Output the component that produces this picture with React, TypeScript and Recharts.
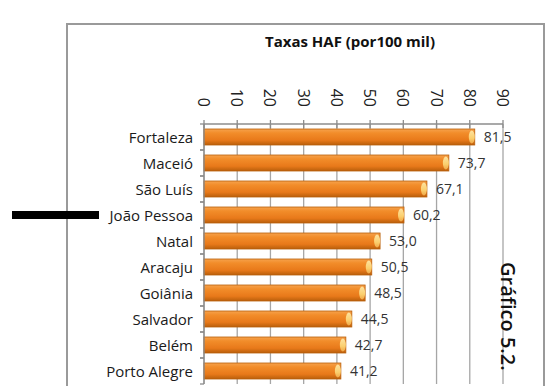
import React from 'react';
import { BarChart, Bar, XAxis, YAxis, CartesianGrid, LabelList } from 'recharts';

const cities = ['Fortaleza', 'Maceió', 'São Luís', 'João Pessoa', 'Natal', 'Aracaju', 'Goiânia', 'Salvador', 'Belém', 'Porto Alegre'];
const rates = [81.5, 73.7, 67.1, 60.2, 53.0, 50.5, 48.5, 44.5, 42.7, 41.2];
const xTicks = [0, 10, 20, 30, 40, 50, 60, 70, 80, 90];

const data = cities.map((city, i) => ({ city, value: rates[i] }));

const W = 560;
const H = 386;
const margin = { top: 0, right: 57, bottom: 2, left: 0 };
const xAxisHeight = 124;
const halfBand = (H - margin.top - margin.bottom - xAxisHeight) / cities.length / 2;
const font = '"Open Sans", "Liberation Sans", sans-serif';

const XTick = ({ x, y, payload }: any) => (
  <g>
    <line x1={x} x2={x} y1={y - 4} y2={y + 4} stroke="#8c8c8c" strokeWidth={1.3} />
    <text x={x} y={y - 17} transform={`rotate(90 ${x} ${y - 17})`} textAnchor="end"
      dominantBaseline="central" fontSize={16} fill="#222" fontFamily={font}>
      {payload.value}
    </text>
  </g>
);

const YTick = ({ x, y, payload }: any) => (
  <g>
    <line x1={x - 4} x2={x} y1={y - halfBand} y2={y - halfBand} stroke="#8c8c8c" strokeWidth={1.3} />
    <line x1={x - 4} x2={x} y1={y + halfBand} y2={y + halfBand} stroke="#8c8c8c" strokeWidth={1.3} />
    <text x={x - 11} y={y} textAnchor="end" dominantBaseline="central" fontSize={15} fill="#1a1a1a" fontFamily={font}>
      {payload.value}
    </text>
  </g>
);

const TubeBar = ({ x, y, width, height }: any) => {
  if (!width || width <= 0) return null;
  return (
    <g>
      <rect x={x} y={y} width={width} height={height} fill="url(#barGrad)" stroke="#b9600c" strokeWidth={0.8} />
      <ellipse cx={x + width - 3} cy={y + height / 2} rx={3} ry={height / 2 - 1.5} fill="url(#capGrad)" />
    </g>
  );
};

const fmt = (v: any) => Number(v).toFixed(1).replace('.', ',');

export default function App() {
  return (
    <div style={{ position: 'absolute', left: 0, top: 0, width: W, height: H, overflow: 'hidden', background: '#fff', fontFamily: font }}>
      <div style={{ position: 'absolute', left: 66, top: 23, width: 475, height: 420, border: '2px solid #9a9a9a' }} />
      <div style={{ position: 'absolute', left: 0, top: 31, width: 700, textAlign: 'center', fontSize: 15, fontWeight: 700, color: '#111' }}>
        Taxas HAF (por100 mil)
      </div>
      <div style={{ position: 'absolute', left: 12, top: 211, width: 87, height: 8, background: '#000' }} />
      <div style={{ position: 'absolute', left: 0, top: 0 }}>
        <BarChart width={W} height={H} data={data} layout="vertical" margin={margin}>
          <defs>
            <linearGradient id="barGrad" x1="0" y1="0" x2="0" y2="1">
              <stop offset="0%" stopColor="#f6a24c" />
              <stop offset="25%" stopColor="#f28d2a" />
              <stop offset="70%" stopColor="#e8791a" />
              <stop offset="100%" stopColor="#b95f0b" />
            </linearGradient>
            <linearGradient id="capGrad" x1="0" y1="0" x2="0" y2="1">
              <stop offset="0%" stopColor="#fde3a0" />
              <stop offset="60%" stopColor="#fbcf6e" />
              <stop offset="100%" stopColor="#f0a848" />
            </linearGradient>
          </defs>
          <CartesianGrid horizontal={false} stroke="#a6a6a6" strokeWidth={1.3} />
          <XAxis type="number" orientation="top" domain={[0, 90]} ticks={xTicks} interval={0}
            height={xAxisHeight} tickSize={0} tickMargin={0} tickLine={false}
            axisLine={{ stroke: '#8c8c8c', strokeWidth: 1.3 }} tick={<XTick />} />
          <YAxis type="category" dataKey="city" width={204} tickSize={0} tickMargin={0} tickLine={false}
            interval={0} axisLine={{ stroke: '#8c8c8c', strokeWidth: 1.3 }} tick={<YTick />} />
          <Bar dataKey="value" barSize={16} shape={<TubeBar />} isAnimationActive={false}>
            <LabelList dataKey="value" position="right" offset={9} formatter={fmt}
              fill="#333" fontSize={14} fontFamily={font} />
          </Bar>
        </BarChart>
      </div>
      <div style={{ position: 'absolute', left: 497, top: 262, writingMode: 'vertical-rl', fontSize: 20, fontWeight: 600, color: '#111', lineHeight: '22px', whiteSpace: 'nowrap' }}>
        Gráfico 5.2.
      </div>
    </div>
  );
}
